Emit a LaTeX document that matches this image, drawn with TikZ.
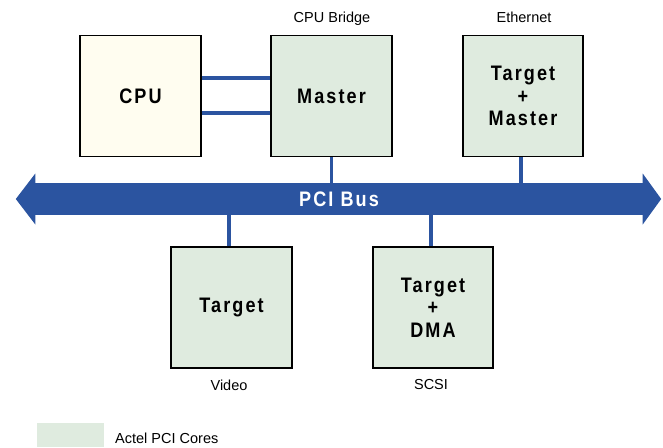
\documentclass[tikz,border=0pt]{standalone}
\usepackage{fontspec}
\setmainfont{Liberation Sans}
\newfontfamily\boxfont{Liberation Sans}[FakeStretch=0.86,LetterSpace=10]
\usetikzlibrary{calc}
\definecolor{busblue}{HTML}{2B54A0}
\definecolor{coregreen}{HTML}{DFEBDF}
\definecolor{cpucream}{HTML}{FFFDF0}
\begin{document}
\begin{tikzpicture}[x=1pt,y=-1pt,
  unit/.style={draw=black,line width=1.5pt,minimum width=121pt,minimum height=121pt,inner sep=0pt,align=center,
    font=\boxfont\bfseries\fontsize{21}{22.5}\selectfont},
  core/.style={unit,fill=coregreen},
  lbl/.style={font=\fontsize{14.5}{16}\selectfont,inner sep=0pt},
  link/.style={draw=busblue,line width=4pt},
  vlink/.style={draw=busblue,line width=3.6pt}]
\useasboundingbox (0,0) rectangle (663,447);
% boxes
\node[unit,fill=cpucream] (cpu) at (140.5,96) {CPU};
\node[core] (master) at (331.5,96) {Master};
\node[core,minimum width=120pt] (eth) at (523,96) {Target\\+\\Master};
\node[core] (video) at (231.5,307.5) {Target};
\node[core,minimum width=120pt] (scsi) at (433,307.5) {Target\\+\\DMA};
% bus
\node[fill=busblue,minimum width=608pt,minimum height=32pt,inner sep=0pt,text=white,
  font=\boxfont\bfseries\fontsize{21}{22.5}\selectfont] (bus) at (339,199) {PCI Bus};
\fill[busblue] ($(bus.west)+(0.5,-25.5)$) -- ($(bus.west)+(-19,0)$) -- ($(bus.west)+(0.5,25.5)$) -- cycle;
\fill[busblue] ($(bus.east)+(-0.5,-25.5)$) -- ($(bus.east)+(18,0)$) -- ($(bus.east)+(-0.5,25.5)$) -- cycle;
% connectors
\draw[link] ([yshift=18pt]cpu.east) -- ([yshift=18pt]master.west);
\draw[link] ([yshift=-17pt]cpu.east) -- ([yshift=-17pt]master.west);
\draw[vlink] (master.south) -- (master.south |- bus.north);
\draw[vlink] ([xshift=-2pt]eth.south) -- ([xshift=-2pt]eth.south |- bus.north);
\draw[vlink] ([xshift=-2.5pt]video.north) -- ([xshift=-2.5pt]video.north |- bus.south);
\draw[vlink] ([xshift=-2pt]scsi.north) -- ([xshift=-2pt]scsi.north |- bus.south);
% labels
\node[lbl] (lbridge) at (332,19) {CPU Bridge};
\node[lbl] (leth) at (524,17) {Ethernet};
\node[lbl] (lvideo) at (229,385) {Video};
\node[lbl] (lscsi) at (431,385) {SCSI};
% legend
\node[fill=coregreen,minimum width=67pt,minimum height=24pt,inner sep=0pt,anchor=north west] (legend) at (37,423) {};
\node[lbl,anchor=west] (legtext) at (115,438) {Actel PCI Cores};
\end{tikzpicture}
\end{document}
